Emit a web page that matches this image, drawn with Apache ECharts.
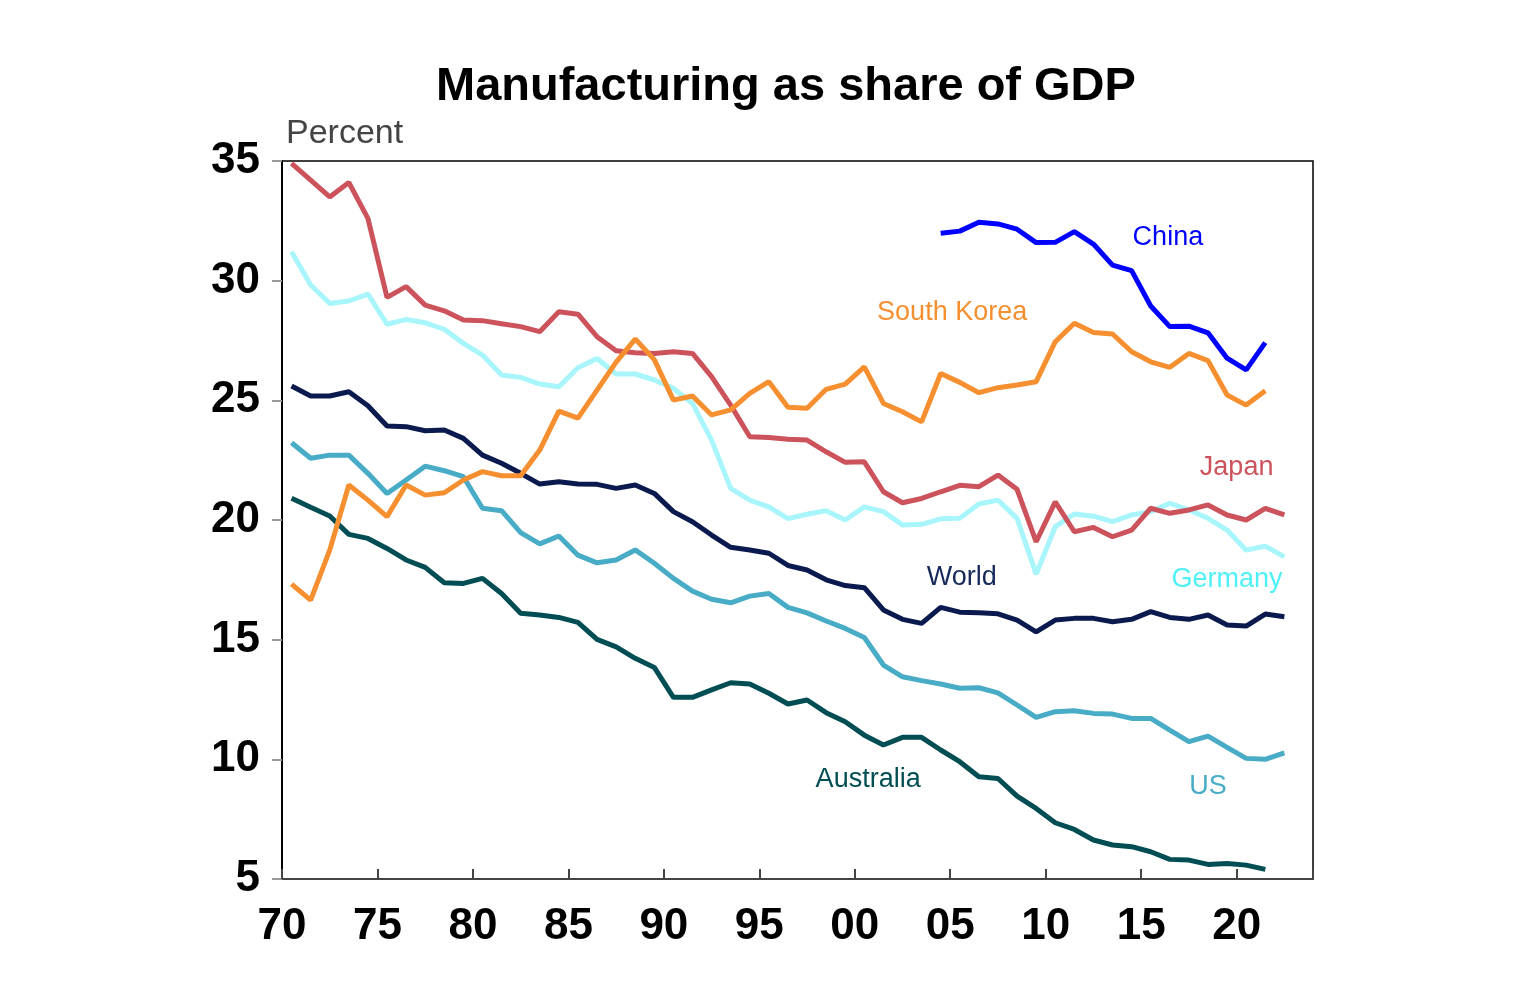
<!DOCTYPE html>
<html>
<head>
<meta charset="utf-8">
<script src="https://cdn.jsdelivr.net/npm/echarts@6/dist/echarts.min.js"></script>
<style>
  html, body { margin: 0; padding: 0; background: #fff; }
  #chart { width: 1536px; height: 1000px; }
</style>
</head>
<body>
<div id="chart"></div>
<script>
// annual data, first year 1970 (China from 2004), plotted at mid-year
var startYear = 1970;
var chinaStart = 2004;

var japan = [34.9, 34.2, 33.5, 34.1, 32.6, 29.3, 29.75, 28.98, 28.74, 28.36,
  28.33, 28.2, 28.08, 27.87, 28.7, 28.6, 27.66, 27.07, 26.99, 26.96,
  27.03, 26.96, 25.99, 24.8, 23.48, 23.45, 23.37, 23.34, 22.85, 22.41,
  22.43, 21.18, 20.72, 20.9, 21.18, 21.45, 21.39, 21.88, 21.28, 19.09,
  20.76, 19.51, 19.69, 19.3, 19.58, 20.49, 20.28, 20.42, 20.63, 20.21,
  20.0, 20.49, 20.21];

var germany = [31.21, 29.82, 29.05, 29.15, 29.44, 28.18, 28.38, 28.24, 27.97, 27.38,
  26.89, 26.06, 25.96, 25.68, 25.57, 26.36, 26.75, 26.1, 26.1, 25.85,
  25.5, 24.87, 23.34, 21.32, 20.83, 20.55, 20.06, 20.24, 20.39, 20.0,
  20.55, 20.35, 19.79, 19.82, 20.05, 20.07, 20.67, 20.83, 20.07, 17.74,
  19.72, 20.25, 20.16, 19.93, 20.21, 20.35, 20.7, 20.42, 20.07, 19.58,
  18.74, 18.91, 18.46];

var world = [25.6, 25.18, 25.18, 25.36, 24.77, 23.93, 23.9, 23.73, 23.76, 23.41,
  22.71, 22.37, 21.95, 21.5, 21.6, 21.5, 21.49, 21.32, 21.46, 21.11,
  20.35, 19.93, 19.37, 18.86, 18.75, 18.61, 18.1, 17.91, 17.5, 17.26,
  17.17, 16.24, 15.85, 15.68, 16.35, 16.15, 16.12, 16.08, 15.82, 15.33,
  15.82, 15.89, 15.89, 15.75, 15.85, 16.17, 15.93, 15.85, 16.03, 15.61,
  15.57, 16.07, 15.96];

var southKorea = [17.32, 16.65, 18.74, 21.46, 20.83, 20.14, 21.46, 21.04, 21.14, 21.67,
  22.02, 21.85, 21.85, 22.92, 24.55, 24.26, 25.43, 26.6, 27.56, 26.7,
  25.01, 25.18, 24.39, 24.6, 25.29, 25.78, 24.71, 24.67, 25.46, 25.68,
  26.4, 24.87, 24.52, 24.1, 26.12, 25.75, 25.32, 25.53, 25.64, 25.78,
  27.45, 28.22, 27.83, 27.77, 27.03, 26.61, 26.38, 26.96, 26.66, 25.22,
  24.8, 25.4];

var china = [31.98, 32.07, 32.44, 32.37, 32.15, 31.59, 31.6, 32.05, 31.53, 30.65,
  30.42, 28.94, 28.08, 28.1, 27.82, 26.76, 26.27, 27.41];

var us = [23.23, 22.58, 22.71, 22.71, 21.95, 21.11, 21.67, 22.25, 22.06, 21.81,
  20.49, 20.39, 19.47, 19.0, 19.33, 18.53, 18.21, 18.33, 18.75, 18.19,
  17.56, 17.03, 16.69, 16.54, 16.82, 16.93, 16.35, 16.12, 15.78, 15.47,
  15.09, 13.94, 13.45, 13.29, 13.15, 12.97, 12.99, 12.78, 12.27, 11.75,
  11.99, 12.03, 11.92, 11.89, 11.71, 11.71, 11.22, 10.74, 10.97, 10.5,
  10.04, 10.0, 10.27];

var australia = [20.91, 20.53, 20.17, 19.4, 19.23, 18.81, 18.33, 18.02, 17.38, 17.35,
  17.56, 16.93, 16.1, 16.03, 15.93, 15.72, 15.01, 14.7, 14.22, 13.84,
  12.59, 12.59, 12.9, 13.2, 13.15, 12.76, 12.31, 12.48, 11.95, 11.57,
  11.01, 10.6, 10.92, 10.92, 10.39, 9.9, 9.27, 9.2, 8.46, 7.95,
  7.35, 7.07, 6.63, 6.42, 6.35, 6.14, 5.82, 5.79, 5.61, 5.65,
  5.58, 5.4];

// where each series name sits, in [year, percent]
var labelSpots = {
  'China': [2016.4, 31.8],
  'South Korea': [2005.1, 28.65],
  'Japan': [2020.0, 22.2],
  'Germany': [2019.5, 17.5],
  'World': [2005.6, 17.6],
  'US': [2018.5, 8.85],
  'Australia': [2000.7, 9.15]
};

var font = 'Arial, "Liberation Sans", Helvetica, sans-serif';

function toPairs(values, firstYear) {
  return values.map(function (v, i) {
    return [firstYear + i + 0.5, v];
  });
}

function makeSeries(name, values, firstYear, color, labelColor) {
  return {
    name: name,
    type: 'line',
    data: toPairs(values, firstYear),
    symbol: 'none',
    animation: false,
    lineStyle: { color: color, width: 5 },
    itemStyle: { color: color },
    markPoint: {
      symbol: 'circle',
      symbolSize: 0,
      animation: false,
      data: [{ coord: labelSpots[name] }],
      label: {
        show: true,
        position: 'inside',
        formatter: name,
        color: labelColor || color,
        fontSize: 27,
        fontFamily: font
      }
    }
  };
}

var myChart = echarts.init(document.getElementById('chart'));

var option = {
  backgroundColor: '#fff',
  title: [{
    text: 'Manufacturing as share of GDP',
    left: 431,
    top: 59,
    textStyle: {
      fontSize: 47,
      fontWeight: 'bold',
      color: '#000',
      fontFamily: font
    }
  }, {
    text: 'Percent',
    left: 281,
    top: 112,
    textStyle: {
      fontSize: 34,
      fontWeight: 'normal',
      color: '#444',
      fontFamily: font
    }
  }],
  grid: {
    left: 282,
    right: 223,
    top: 161,
    bottom: 121,
    show: true,
    borderColor: '#000',
    borderWidth: 1.5,
    backgroundColor: 'transparent'
  },
  xAxis: {
    type: 'value',
    min: 1970,
    max: 2024,
    interval: 5,
    splitLine: { show: false },
    axisLine: { lineStyle: { color: '#444', width: 2 } },
    axisTick: {
      inside: true,
      length: 10,
      lineStyle: { color: '#444', width: 2 }
    },
    axisLabel: {
      margin: 26,
      color: '#000',
      fontSize: 44,
      fontWeight: 'bold',
      fontFamily: font,
      formatter: function (v) {
        if (v % 5 !== 0) return '';
        return String(v).slice(2);
      }
    }
  },
  yAxis: {
    type: 'value',
    min: 5,
    max: 35,
    interval: 5,
    splitLine: { show: false },
    axisLine: { lineStyle: { color: '#000', width: 2 } },
    axisTick: {
      length: 10,
      lineStyle: { color: '#999', width: 2 }
    },
    axisLabel: {
      margin: 22,
      color: '#000',
      fontSize: 44,
      fontWeight: 'bold',
      fontFamily: font
    }
  },
  series: [
    makeSeries('Germany', germany, startYear, '#a8f6fb', '#4ff0f6'),
    makeSeries('US', us, startYear, '#48acc7'),
    makeSeries('Australia', australia, startYear, '#004e54'),
    makeSeries('World', world, startYear, '#0b1a4e', '#15295a'),
    makeSeries('Japan', japan, startYear, '#cc525b'),
    makeSeries('South Korea', southKorea, startYear, '#f68f2f'),
    makeSeries('China', china, chinaStart, '#0000ff')
  ]
};

myChart.setOption(option);
</script>
</body>
</html>
